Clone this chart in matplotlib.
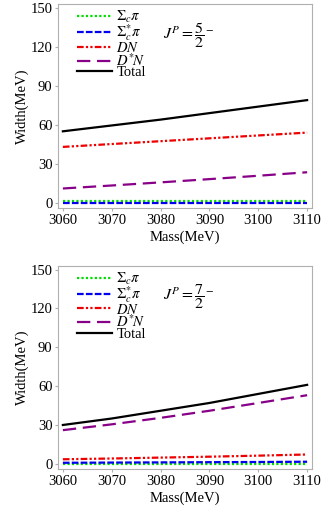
import matplotlib
matplotlib.use("Agg")
import matplotlib.pyplot as plt
import numpy as np

plt.rcParams['font.family'] = ['Liberation Serif', 'DejaVu Serif']
plt.rcParams['mathtext.fontset'] = 'stix'

mass = [3060, 3070, 3080, 3090, 3100, 3110]

# J^P = 5/2^-
sc_pi_5 = [1.0, 1.0, 1.0, 1.0, 1.0, 1.0]
scs_pi_5 = [0.2, 0.2, 0.2, 0.2, 0.2, 0.2]
dn_5 = [43.0, 45.2, 47.4, 49.6, 51.8, 54.0]
dsn_5 = [11.0, 13.3, 15.7, 18.2, 20.8, 23.5]
total_5 = [55.0, 59.5, 64.0, 69.0, 74.0, 79.0]

# J^P = 7/2^-
sc_pi_7 = [0.2, 0.2, 0.2, 0.2, 0.2, 0.2]
scs_pi_7 = [0.8, 0.95, 1.1, 1.25, 1.4, 1.6]
dn_7 = [3.5, 4.1, 4.8, 5.5, 6.3, 7.2]
dsn_7 = [26.0, 30.5, 35.5, 41.0, 47.0, 53.0]
total_7 = [30.0, 35.0, 41.0, 47.0, 54.0, 61.0]

labels = [r'$\Sigma_c\pi$', r'$\Sigma_c^{\!*}\!\pi$', r'$DN$', r'$D^{*}\!N$', 'Total']
colors = ['#00dd00', '#0000ee', '#ee0000', '#880088', 'black']
styles = [(0, (1, 1)), (0, (3, 1)), (0, (3, 1, 1, 1, 1, 1)), (0, (6, 3)), '-']
yticks = [0, 30, 60, 90, 120, 150]
xticks = [3060, 3070, 3080, 3090, 3100, 3110]

fig = plt.figure(figsize=(3.36, 5.08), dpi=100)
ax1 = fig.add_axes([0.1726, 0.5906, 0.756, 0.4016])
ax2 = fig.add_axes([0.1726, 0.0768, 0.756, 0.400])

panels = [
    (ax1, [sc_pi_5, scs_pi_5, dn_5, dsn_5, total_5], '5'),
    (ax2, [sc_pi_7, scs_pi_7, dn_7, dsn_7, total_7], '7'),
]

for ax, series, num in panels:
    for ys, lab, c, ls in zip(series, labels, colors, styles):
        ax.plot(mass, ys, color=c, linestyle=ls, lw=1.6, label=lab)
    ax.set_xlim(3059, 3111)
    ax.set_ylim(-4, 153)
    ax.set_xticks(xticks)
    ax.set_yticks(yticks)
    for sp in ax.spines.values():
        sp.set_color('#b0b0b0')
    ax.tick_params(direction='out', length=2.5, color='#b0b0b0', labelsize=10.5, pad=1.5)
    ax.set_xlabel('Mass(MeV)', fontsize=10.5, labelpad=3)
    ax.set_ylabel('Width(MeV)', fontsize=10.5, labelpad=1)
    ax.legend(loc='upper left', frameon=False, fontsize=10.5, handlelength=2.4,
              handletextpad=0.3, labelspacing=-0.18, borderaxespad=0.0,
              borderpad=0.0, bbox_to_anchor=(0.075, 0.975))
    ax.text(0.415, 0.85, r'$J^P = \dfrac{' + num + r'}{2}^{-}$', transform=ax.transAxes,
            fontsize=11.5, va='center', ha='left')

fig.savefig('out.png', dpi=100)
